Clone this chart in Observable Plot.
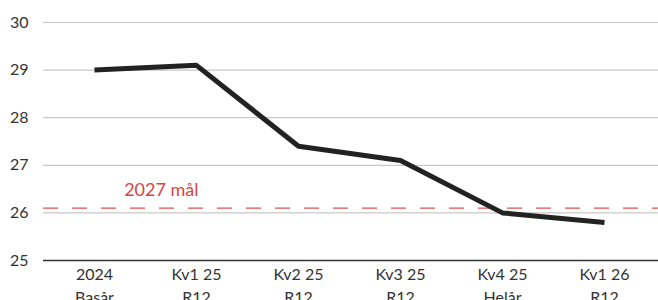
<!DOCTYPE html>
<html><head><meta charset="utf-8">
<script src="https://cdn.jsdelivr.net/npm/d3@7"></script>
<script src="https://cdn.jsdelivr.net/npm/@observablehq/plot@0.6"></script>
<style>body{margin:0;background:#fff;font-family:Lato,sans-serif;}</style>
</head><body><div id="chart"></div>
<script>
const categories = ["2024\nBasår","Kv1 25\nR12","Kv2 25\nR12","Kv3 25\nR12","Kv4 25\nHelår","Kv1 26\nR12"];
const values = [29.0, 29.1, 27.4, 27.1, 26.0, 25.8];
const target = 26.1;
const targetLabel = "2027 mål";
const yTicks = [25,26,27,28,29,30];
const data = categories.map((c,i)=>({c, v: values[i]}));

const chart = Plot.plot({
  width: 658, height: 300,
  marginLeft: 43, marginRight: 4, marginTop: 22, marginBottom: 40,
  style: {fontFamily: "Lato, sans-serif", fontSize: "16px", color: "#333", background: "#fff"},
  x: {type: "point", domain: categories, padding: 0.478, label: null},
  y: {domain: [25, 30], label: null},
  marks: [
    Plot.ruleY(yTicks.filter(d=>d>25), {stroke: "#c8c8c8", strokeWidth: 1.2, insetRight: -4}),
    Plot.axisY({ticks: yTicks, tickFormat: "d", tickSize: 0, tickPadding: 15, fontSize: 16, fill: "#333", label: null}),
    Plot.axisX({tickSize: 0, tickPadding: 3, fontSize: 16, fill: "#333", lineHeight: 1.45, label: null}),
    Plot.ruleY([target], {stroke: "#e05252", strokeWidth: 1.3, strokeDasharray: "15,14", insetRight: -4}),
    Plot.text([targetLabel], {x: () => categories[1], y: () => target, text: d => d, textAnchor: "end", dx: 2, dy: -18, fill: "#d94444", fontSize: 18}),
    Plot.ruleY([25], {stroke: "#333", strokeWidth: 1.6, insetRight: -4}),
    Plot.line(data, {x: "c", y: "v", stroke: "#222", strokeWidth: 5, strokeLinecap: "butt", strokeLinejoin: "round"})
  ]
});
document.getElementById("chart").appendChild(chart);
</script></body></html>
